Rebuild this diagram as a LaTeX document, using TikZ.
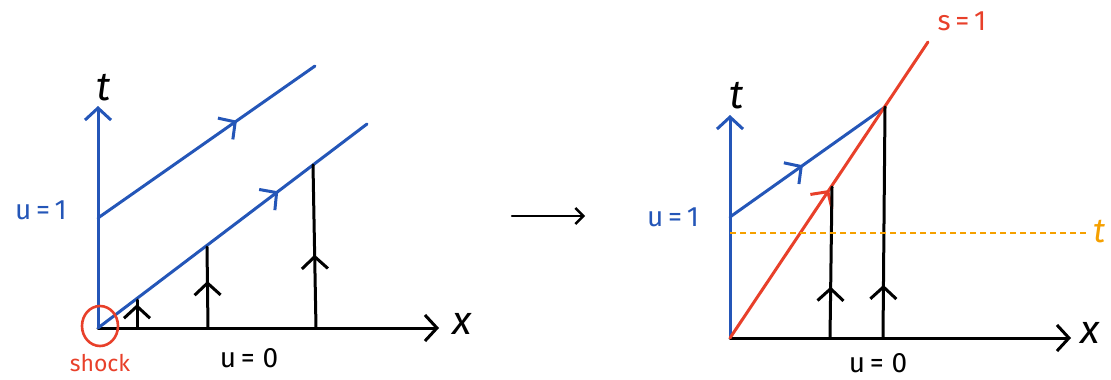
\documentclass[tikz,border=0pt]{standalone}
\usepackage{fontspec}
\setmainfont{Fira Sans}
\usetikzlibrary{arrows.meta,decorations.markings}
\definecolor{cblue}{HTML}{2456B8}
\definecolor{cred}{HTML}{E8402A}
\definecolor{corange}{HTML}{F5A000}
\tikzset{
  every picture/.style={x=1pt,y=-1pt},
  ln/.style={line width=3pt, line cap=round},
  barb/.tip={Straight Barb[length=12pt,width=26pt,line width=3pt]},
  axis/.style={ln, black, -barb},
  midarr/.style={postaction={decorate}, decoration={markings, mark=at position #1 with {\arrow{barb}}}},
  lbl/.style={inner sep=0pt, font=\fontsize{28}{30}\selectfont},
  biglbl/.style={inner sep=0pt, font=\fontsize{40}{42}\selectfont\itshape},
}
\begin{document}
\begin{tikzpicture}
\useasboundingbox (0,0) rectangle (1111,380);
% ---------- left panel ----------
\coordinate (O1) at (98,328);
\coordinate (T1) at (98,106);
\coordinate (X1) at (439,328);
\coordinate (U1) at (98,218);
\coordinate (A1) at (315,66);
\coordinate (B1) at (367,124);
\coordinate (P1b) at (137,328); \coordinate (P1t) at (137,300);
\coordinate (P2b) at (208,328); \coordinate (P2t) at (207,247);
\coordinate (P3b) at (316,328); \coordinate (P3t) at (313,165);
\draw[ln, cblue, -barb] (O1) -- (T1);
\draw[axis] (O1) -- (X1);
\draw[ln, cblue, midarr=0.64] (U1) -- (A1);
\draw[ln, cblue, midarr=0.67] (O1) -- (B1);
\draw[ln, midarr=0.85] (P1b) -- (P1t);
\draw[ln, midarr=0.58] (P2b) -- (P2t);
\draw[ln, midarr=0.45] (P3b) -- (P3t);
\draw[ln, cred, line width=2.6pt] (100,326) ellipse (18 and 20);
\node[biglbl] (tl1) at (104,88) {t};
\node[biglbl] (xl1) at (462,324) {x};
\node[lbl, text=cblue] (u1l) at (41,210) {u\,=\,1};
\node[lbl] (u0l) at (249,358) {u\,=\;0};
\node[lbl, text=cred, font=\fontsize{23}{24}\selectfont] (shk) at (100,363) {shock};
% ---------- middle arrow ----------
\coordinate (M1) at (512,216);
\coordinate (M2) at (585,216);
\draw[ln, -{Straight Barb[length=8pt,width=16pt,line width=2.4pt]}, line width=2.4pt] (M1) -- (M2);
% ---------- right panel ----------
\coordinate (O2) at (730,338);
\coordinate (T2) at (730,115);
\coordinate (X2) at (1071,338);
\coordinate (U2) at (730,217);
\coordinate (C2) at (885,107);
\coordinate (S2) at (928,42);
\coordinate (Q1b) at (830,338); \coordinate (Q1t) at (832,187);
\coordinate (Q2b) at (883,338); \coordinate (Q2t) at (885,107);
\coordinate (D1) at (730,233);
\coordinate (D2) at (1088,233);
\draw[ln, cblue, -barb] (O2) -- (T2);
\draw[axis] (O2) -- (X2);
\draw[ln, cblue, midarr=0.47] (U2) -- (C2);
\draw[ln, cred, midarr=0.5] (O2) -- (S2);
\draw[ln, midarr=0.34] (Q1b) -- (Q1t);
\draw[ln, midarr=0.23] (Q2b) -- (Q2t);
\draw[corange, line width=2.2pt, dash pattern=on 6pt off 4pt] (D1) -- (D2);
\node[biglbl] (tl2) at (737,96) {t};
\node[biglbl] (xl2) at (1090,333) {x};
\node[lbl, text=cblue] (u1r) at (673,217) {u\,=\,1};
\node[lbl] (u0r) at (878,363) {u\,=\;0};
\node[lbl, text=cred] (sl) at (962,21) {s\,=\,1};
\node[biglbl, text=corange, font=\fontsize{34}{36}\selectfont\itshape] (tl3) at (1100,232) {t};
\end{tikzpicture}
\end{document}
